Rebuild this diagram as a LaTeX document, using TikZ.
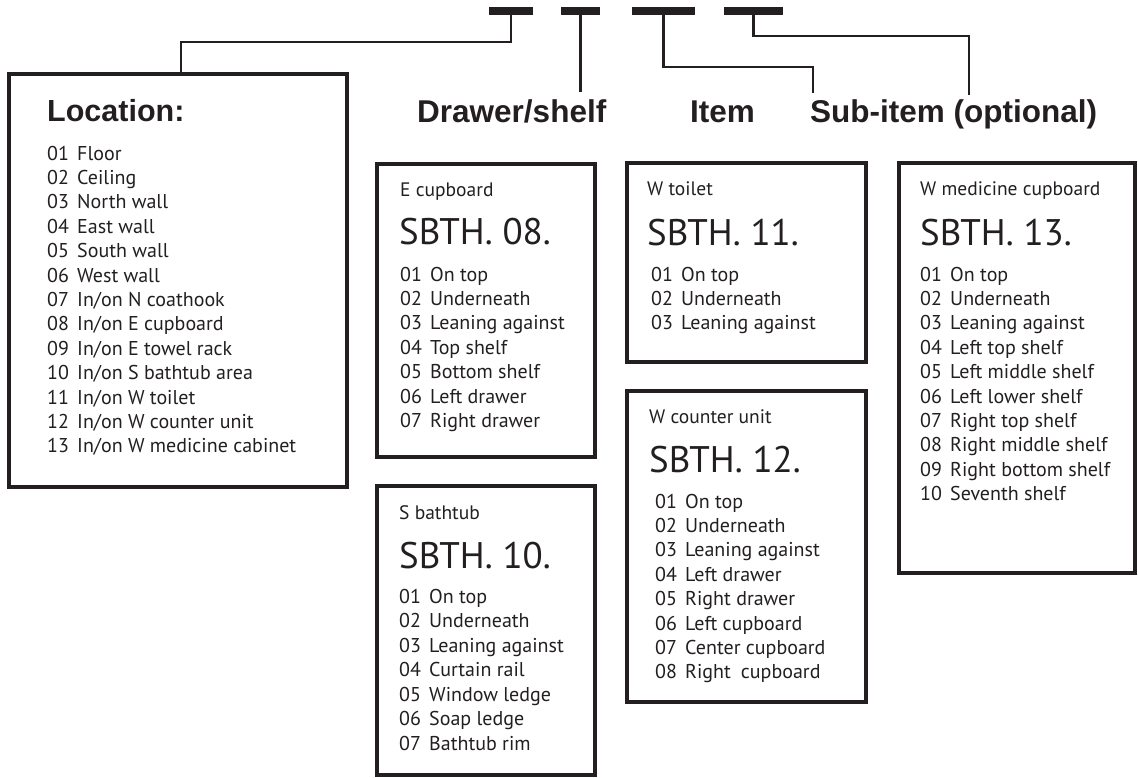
\documentclass[tikz,border=0pt]{standalone}
\usepackage{fontspec}
\setmainfont{PT Sans}
\newfontfamily\headfont{Liberation Sans}
\definecolor{ink}{HTML}{231F20}
\newcommand\itm[2]{\makebox[30pt][l]{#1}#2}
\newcommand\twodig[1]{\ifnum#1<10 0\fi#1}

\tikzset{
  frame/.style={draw=ink, line width=3.4pt, inner sep=0pt, outer sep=0pt, anchor=north west},
  link/.style={draw=ink, line width=2.7pt},
  bar/.style={fill=ink, inner sep=0pt, outer sep=0pt, minimum height=8pt, anchor=north west},
  head/.style={font=\headfont\bfseries\fontsize{31.5}{36}\selectfont, text=ink, inner sep=0pt, anchor=base west},
  lochead/.style={head, font=\headfont\bfseries\fontsize{30.5}{36}\selectfont},
  title/.style={font=\fontsize{19.5}{22}\selectfont, text=ink, inner sep=0pt, anchor=base west},
  code/.style={font=\fontsize{37}{44}\selectfont, text=ink, inner sep=0pt, anchor=base west},
  entry/.style={font=\fontsize{20}{24}\selectfont, text=ink, inner sep=0pt, anchor=base west},
}

\begin{document}
\begin{tikzpicture}[x=1pt,y=-1pt]
\useasboundingbox (0,0) rectangle (1138,777);

% ---- code template bars ----
\node[bar, minimum width=44pt] (b1) at (489,7) {};
\node[bar, minimum width=39pt] (b2) at (561,7) {};
\node[bar, minimum width=63pt] (b3) at (632,7) {};
\node[bar, minimum width=59pt] (b4) at (724,7) {};

% ---- headings ----
\node[lochead] (hloc) at (47,121)  {Location:};
\node[head] (hdraw)   at (417,122) {Drawer/shelf};
\node[head] (hitem)   at (690,122) {Item};
\node[head] (hsub)    at (810,122) {Sub-item (optional)};

% ---- boxes ----
\node[frame, minimum width=338pt, minimum height=413pt] (loc)    at (9,74)    {};
\node[frame, minimum width=218pt, minimum height=293pt] (ecup)   at (377,164) {};
\node[frame, minimum width=218pt, minimum height=289pt] (sbath)  at (377,486) {};
\node[frame, minimum width=239pt, minimum height=199pt] (wtoil)  at (627,163) {};
\node[frame, minimum width=239pt, minimum height=311pt] (wcount) at (627,391) {};
\node[frame, minimum width=236pt, minimum height=410pt] (wmed)   at (899,163) {};

% ---- connectors ----
\coordinate (k1) at (181,42);
\coordinate (locin) at (181,74);
\draw[link] (b1.south) |- (k1) -- (locin);
\coordinate (d2) at (b2.south |- 0,92);
\draw[link] (b2.south) -- (d2);
\coordinate (k3) at (813,67);
\coordinate (d3) at (813,93);
\draw[link] (b3.south) |- (k3) -- (d3);
\coordinate (k4) at (969,36);
\coordinate (d4) at (969,95);
\draw[link] (b4.south) |- (k4) -- (d4);

% ---- Location list ----
\foreach \t [count=\i] in {Floor, Ceiling, North wall, East wall, South wall, West wall,
  In/on N coathook, In/on E cupboard, In/on E towel rack, In/on S bathtub area,
  In/on W toilet, In/on W counter unit, In/on W medicine cabinet}
  \node[entry] (loc-\i) at (47,{160+(\i-1)*24.4}) {\itm{\twodig{\i}}{\t}};

% ---- E cupboard ----
\node[title] (ecup-t) at (400,196) {E cupboard};
\node[code]  (ecup-c) at (399,244) {SBTH. 08.};
\foreach \t [count=\i] in {On top, Underneath, Leaning against, Top shelf,
  Bottom shelf, Left drawer, Right drawer}
  \node[entry] (ecup-\i) at (400,{281+(\i-1)*24.4}) {\itm{\twodig{\i}}{\t}};

% ---- S bathtub ----
\node[title] (sbath-t) at (399,519) {S bathtub};
\node[code]  (sbath-c) at (399,568) {SBTH. 10.};
\foreach \t [count=\i] in {On top, Underneath, Leaning against, Curtain rail,
  Window ledge, Soap ledge, Bathtub rim}
  \node[entry] (sbath-\i) at (399,{603+(\i-1)*24.5}) {\itm{\twodig{\i}}{\t}};

% ---- W toilet ----
\node[title] (wtoil-t) at (647,195) {W toilet};
\node[code]  (wtoil-c) at (647,245) {SBTH. 11.};
\foreach \t [count=\i] in {On top, Underneath, Leaning against}
  \node[entry] (wtoil-\i) at (651,{281+(\i-1)*24}) {\itm{\twodig{\i}}{\t}};

% ---- W counter unit ----
\node[title] (wcount-t) at (649,423) {W counter unit};
\node[code]  (wcount-c) at (649,472) {SBTH. 12.};
\foreach \t [count=\i] in {On top, Underneath, Leaning against, Left drawer,
  Right drawer, Left cupboard, Center cupboard, Right\enspace cupboard}
  \node[entry] (wcount-\i) at (655,{508+(\i-1)*24.4}) {\itm{\twodig{\i}}{\t}};

% ---- W medicine cupboard ----
\node[title] (wmed-t) at (920,195) {W medicine cupboard};
\node[code]  (wmed-c) at (920,245) {SBTH. 13.};
\foreach \t [count=\i] in {On top, Underneath, Leaning against, Left top shelf,
  Left middle shelf, Left lower shelf, Right top shelf, Right middle shelf,
  Right bottom shelf, Seventh shelf}
  \node[entry] (wmed-\i) at (920,{281+(\i-1)*24.4}) {\itm{\twodig{\i}}{\t}};
\end{tikzpicture}
\end{document}
